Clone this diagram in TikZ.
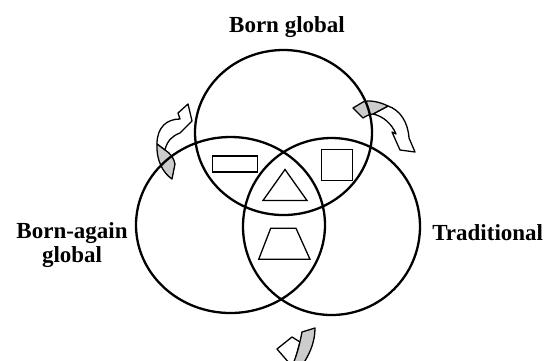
\documentclass[tikz,border=0pt]{standalone}
\usepackage{fontspec}
\setmainfont{Liberation Serif}
\usetikzlibrary{shapes.geometric,positioning}
\tikzset{
  ring/.style={draw,ellipse,line width=2.3pt,inner sep=0pt},
  tag/.style={font=\fontsize{23}{24}\selectfont\bfseries,align=center,inner sep=0pt},
  piece/.style={draw,line width=1.3pt,inner sep=0pt},
  backside/.style={draw,line width=1.3pt,fill=gray!40,line join=round},
  frontside/.style={draw,line width=1.3pt,fill=white,line join=round},
}
\begin{document}
\begin{tikzpicture}[x=1pt,y=-1pt]
  \clip (0,0) rectangle (546,360);

  % curved arrows, behind the rings
  \draw[frontside] (157,144) .. controls (157,127) and (167,119) .. (180,119)
    -- (178,113) -- (188,104) -- (192,121) -- (180,133)
    .. controls (172,136) and (167,141) .. (165,150) -- cycle;
  \draw[backside] (157,144) -- (165,150) .. controls (170,153) and (174,158) .. (175,164)
    -- (172,179) .. controls (163,173) and (156,160) .. cycle;

  \draw[frontside] (388,106) .. controls (400,110) and (408,122) .. (409,138)
    -- (415,152) -- (400,150) -- (392,132) -- (396,134)
    .. controls (392,124) and (383,116) .. (373,114) -- cycle;
  \draw[backside] (388,106) .. controls (378,101) and (368,100) .. (363,102)
    -- (353,108) -- (363,118) .. controls (366,116) and (370,114) .. (373,114) -- cycle;

  \draw[frontside] (300,342) -- (292,337) -- (277,349) -- (290,364) -- (294,364) -- cycle;
  \draw[backside] (302,332) -- (315,328) .. controls (315,340) and (311,352) .. (303,364)
    -- (293,364) .. controls (298,352) and (300,342) .. cycle;

  % the three rings
  \node[ring,minimum width=177pt,minimum height=165pt] (born) at (283.5,132.5) {};
  \node[ring,minimum width=189pt,minimum height=176pt] (again) at (230.5,225) {};
  \node[ring,minimum width=177pt,minimum height=177pt] (trad) at (331.5,226.5) {};

  % shapes in the regions
  \node[piece,minimum width=45pt,minimum height=16pt] (bar) at (235,164) {};
  \node[piece,minimum width=30.5pt,minimum height=31.5pt] (box) at (337,165) {};
  \draw[piece] (285,169.5) -- (307,200.5) -- (263,200.5) -- cycle;
  \draw[piece] (270.7,228.3) -- (296,228.3) -- (310,259.3) -- (258.7,259.3) -- cycle;

  % labels
  \node[tag,above=11pt of born,xshift=3.5pt] (bornlbl) {Born global};
  \node[tag,left=7pt of again,yshift=-20.5pt] (againlbl) {Born-again\\global};
  \node[tag,right=11pt of trad,yshift=-5.7pt] (tradlbl) {Traditional};
\end{tikzpicture}
\end{document}
